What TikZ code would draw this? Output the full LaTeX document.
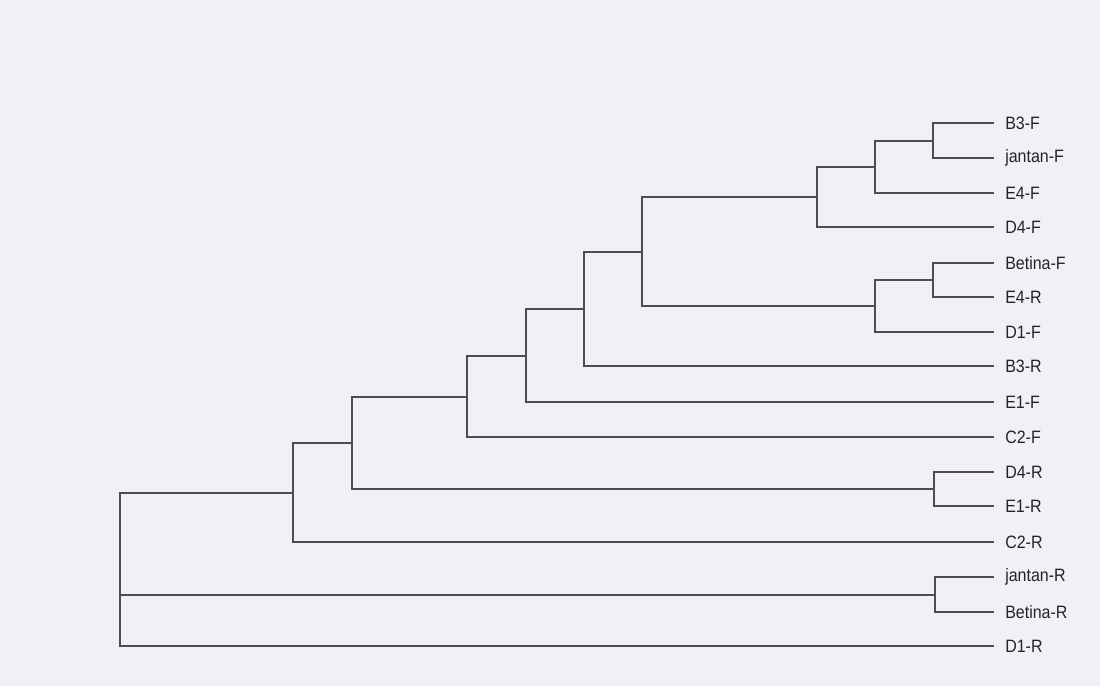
\documentclass[tikz,border=0pt]{standalone}
\usepackage{fontspec}
\usepackage{graphicx}
\setmainfont{Liberation Sans}
\definecolor{paper}{RGB}{240,241,245}
\definecolor{ink}{RGB}{78,78,80}
\definecolor{txt}{RGB}{35,35,40}
\begin{document}
\begin{tikzpicture}[x=0.75pt,y=-0.75pt,
  branch/.style={draw=ink,line width=1.5pt,line cap=rect},
  leaflabel/.style={anchor=west,inner sep=0pt,font=\fontsize{12}{14}\selectfont,text=txt}]
\fill[paper] (0,0) rectangle (1100,686);
\useasboundingbox (0,0) rectangle (1100,686);
% leaves: end points and labels
\foreach \nm/\lab/\yy in {l1/B3-F/123, l2/jantan-F/158, l3/E4-F/193, l4/D4-F/227,
  l5/Betina-F/263, l6/E4-R/297, l7/D1-F/332, l8/B3-R/366, l9/E1-F/402,
  l10/C2-F/437, l11/D4-R/472, l12/E1-R/506, l13/C2-R/542, l14/jantan-R/577,
  l15/Betina-R/612, l16/D1-R/646}{
  \coordinate (\nm) at (993,\yy);
  \node[leaflabel] (t\nm) at (1005,\yy) {\scalebox{1}[1.12]{\lab}};
}
% internal nodes
\coordinate (n1) at (933,141);
\coordinate (n2) at (875,167);
\coordinate (n3) at (817,197);
\coordinate (n4) at (933,280);
\coordinate (n5) at (875,306);
\coordinate (n6) at (642,252);
\coordinate (n7) at (584,309);
\coordinate (n8) at (526,356);
\coordinate (n9) at (467,397);
\coordinate (n10) at (934,489);
\coordinate (n11) at (352,443);
\coordinate (n12) at (293,493);
\coordinate (n13) at (935,595);
\coordinate (root) at (120,569);
% branches
\draw[branch] (l1) -| (n1); \draw[branch] (l2) -| (n1);
\draw[branch] (n1) -| (n2); \draw[branch] (l3) -| (n2);
\draw[branch] (n2) -| (n3); \draw[branch] (l4) -| (n3);
\draw[branch] (l5) -| (n4); \draw[branch] (l6) -| (n4);
\draw[branch] (n4) -| (n5); \draw[branch] (l7) -| (n5);
\draw[branch] (n3) -| (n6); \draw[branch] (n5) -| (n6);
\draw[branch] (n6) -| (n7); \draw[branch] (l8) -| (n7);
\draw[branch] (n7) -| (n8); \draw[branch] (l9) -| (n8);
\draw[branch] (n8) -| (n9); \draw[branch] (l10) -| (n9);
\draw[branch] (l11) -| (n10); \draw[branch] (l12) -| (n10);
\draw[branch] (n9) -| (n11); \draw[branch] (n10) -| (n11);
\draw[branch] (n11) -| (n12); \draw[branch] (l13) -| (n12);
\draw[branch] (l14) -| (n13); \draw[branch] (l15) -| (n13);
\draw[branch] (n12) -| (root); \draw[branch] (n13) -| (root); \draw[branch] (l16) -| (root);
\end{tikzpicture}
\end{document}
